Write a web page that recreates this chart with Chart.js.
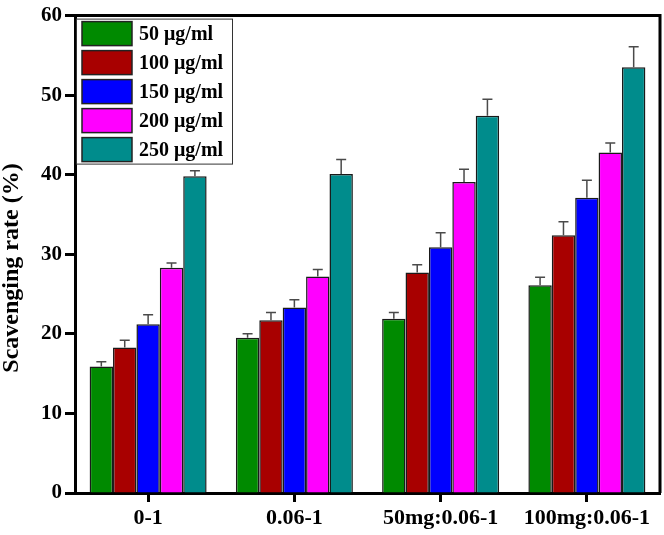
<!DOCTYPE html>
<html>
<head>
<meta charset="utf-8">
<script src="https://cdn.jsdelivr.net/npm/chart.js@4.4.1/dist/chart.umd.min.js"></script>
<style>
  html, body { margin: 0; padding: 0; background: #fff; }
  canvas { display: block; }
</style>
</head>
<body>
<canvas id="scavChart" width="664" height="535"></canvas>
<script>
// SCAVENGING RATE - GROUPED BAR WITH ERROR BARS

const groups = ["0-1", "0.06-1", "50mg:0.06-1", "100mg:0.06-1"];
const doseLabels = ["50 \u03bcg/ml", "100 \u03bcg/ml", "150 \u03bcg/ml", "200 \u03bcg/ml", "250 \u03bcg/ml"];
const doseColors = ["#008a00", "#a80000", "#0000ff", "#ff00ff", "#008c8c"];

// mean values, one array per dose
const dose50 = [15.9, 19.5, 21.9, 26.1];
const dose100 = [18.3, 21.7, 27.7, 32.4];
const dose150 = [21.2, 23.3, 30.9, 37.1];
const dose200 = [28.3, 27.2, 39.1, 42.8];
const dose250 = [39.8, 40.1, 47.4, 53.5];

// upper error (sd)
const err50 = [0.6, 0.5, 0.8, 1.0];
const err100 = [0.9, 1.0, 1.0, 1.7];
const err150 = [1.2, 1.0, 1.8, 2.2];
const err200 = [0.6, 0.9, 1.6, 1.2];
const err250 = [0.7, 1.8, 2.1, 2.6];

const yTicks = [0, 10, 20, 30, 40, 50, 60];
const yTitle = "Scavenging rate (%)";

const values = [dose50, dose100, dose150, dose200, dose250];
const errors = [err50, err100, err150, err200, err250];

const FONT = "'Liberation Serif', 'Times New Roman', serif";

const scavData = {
    labels: groups,
    datasets: values.map(function (v, i) {
        return {
            label: doseLabels[i],
            data: v,
            errUp: errors[i],
            backgroundColor: doseColors[i],
            borderColor: "#1a1a1a",
            borderWidth: 1.5,
            borderSkipped: "bottom",
            categoryPercentage: 0.8,
            barPercentage: 1.0
        };
    })
};

// error bars + frame + legend + axis title drawn on top
const extras = {
    id: "extras",
    afterDatasetsDraw(chart) {
        const ctx = chart.ctx;
        const y = chart.scales.y;
        ctx.save();
        ctx.strokeStyle = "#4a4a4a";
        ctx.lineWidth = 1.5;
        chart.data.datasets.forEach(function (ds, i) {
            const meta = chart.getDatasetMeta(i);
            meta.data.forEach(function (bar, j) {
                const top = y.getPixelForValue(ds.data[j] + ds.errUp[j]);
                const base = y.getPixelForValue(ds.data[j]);
                ctx.beginPath();
                ctx.moveTo(bar.x, base);
                ctx.lineTo(bar.x, top);
                ctx.moveTo(bar.x - 5, top);
                ctx.lineTo(bar.x + 5, top);
                ctx.stroke();
            });
        });
        ctx.restore();
    },
    afterDraw(chart) {
        const ctx = chart.ctx;
        const a = chart.chartArea;
        ctx.save();
        // top and right frame
        ctx.strokeStyle = "#000";
        ctx.lineWidth = 3;
        ctx.beginPath();
        ctx.moveTo(a.left, a.top);
        ctx.lineTo(a.right, a.top);
        ctx.lineTo(a.right, a.bottom);
        ctx.stroke();

        // y title, a bit below the middle like the original
        ctx.save();
        ctx.translate(12, 268);
        ctx.rotate(-Math.PI / 2);
        ctx.font = "bold 24px " + FONT;
        ctx.textAlign = "center";
        ctx.textBaseline = "middle";
        ctx.fillStyle = "#000";
        ctx.fillText(yTitle, 0, 0);
        ctx.restore();

        // legend box
        const lx = a.left + 1, ly = a.top + 3, lw = 156, lh = 145;
        ctx.lineWidth = 1;
        ctx.strokeStyle = "#333";
        ctx.strokeRect(lx + 0.5, ly + 0.5, lw, lh);
        ctx.font = "bold 20px " + FONT;
        ctx.textBaseline = "middle";
        chart.data.datasets.forEach(function (ds, i) {
            const cy = ly + 15 + i * 29;
            ctx.fillStyle = ds.backgroundColor;
            ctx.fillRect(lx + 6, cy - 12, 50, 24);
            ctx.lineWidth = 1.5;
            ctx.strokeStyle = "#222";
            ctx.strokeRect(lx + 6, cy - 12, 50, 24);
            ctx.fillStyle = "#000";
            ctx.fillText(ds.label, lx + 63, cy + 1);
        });
        ctx.restore();
    }
};

new Chart(document.getElementById("scavChart"), {
    type: "bar",
    data: scavData,
    plugins: [extras],
    options: {
        responsive: false,
        animation: false,
        layout: { padding: { top: 10, right: 4, left: 3, bottom: 0 } },
        plugins: {
            legend: { display: false },
            tooltip: { enabled: false }
        },
        scales: {
            x: {
                border: { display: true, color: "#000", width: 3 },
                grid: {
                    display: true,
                    drawOnChartArea: false,
                    drawTicks: true,
                    tickLength: 9,
                    tickWidth: 3,
                    tickColor: "#000",
                    offset: false
                },
                ticks: {
                    color: "#000",
                    padding: 3,
                    font: { family: FONT, size: 22, weight: "bold" }
                },
                afterFit(scale) { scale.height = 42; }
            },
            y: {
                min: 0,
                max: 60,
                afterBuildTicks(scale) {
                    scale.ticks = yTicks.map(function (v) { return { value: v }; });
                },
                border: { display: true, color: "#000", width: 3 },
                grid: {
                    display: true,
                    drawOnChartArea: false,
                    drawTicks: true,
                    tickLength: 10,
                    tickWidth: 3,
                    tickColor: "#000"
                },
                ticks: {
                    color: "#000",
                    padding: 3,
                    font: { family: FONT, size: 21, weight: "bold" }
                },
                afterFit(scale) { scale.width = 72; }
            }
        }
    }
});
</script>
</body>
</html>
